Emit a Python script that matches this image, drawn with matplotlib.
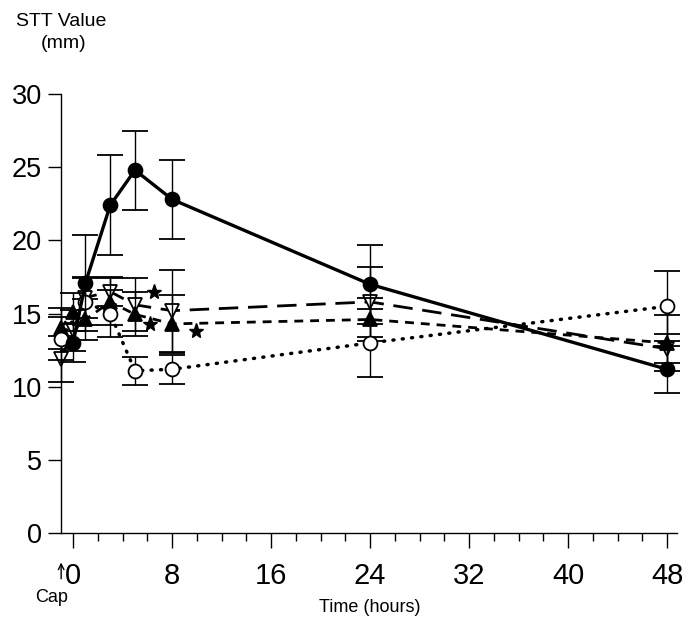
import matplotlib.pyplot as plt
import numpy as np

# time after capsaicin (hours) and STT values (mm)
t_filled = [0, 1, 3, 5, 8, 24, 48]
filled = [13.0, 17.1, 22.4, 24.8, 22.8, 17.0, 11.2]
filled_err = [1.3, 3.3, 3.4, 2.7, 2.7, 2.7, 1.6]

t_open = [-1, 1, 3, 5, 8, 24, 48]
open_ = [13.3, 15.8, 15.0, 11.1, 11.2, 13.0, 15.5]
open_err = [1.5, 1.6, 1.6, 0.95, 1.0, 2.3, 2.4]

t_tri = [-1, 0, 1, 3, 5, 8, 24, 48]
tri_up = [14.0, 15.1, 14.6, 15.8, 14.95, 14.3, 14.6, 13.0]
tri_up_err = [1.4, 1.3, 1.4, 1.6, 1.5, 2.0, 1.5, 1.9]
tri_down = [11.9, 13.85, 16.1, 16.5, 15.6, 15.2, 15.8, 12.6]
tri_down_err = [1.6, 1.4, 1.4, 1.0, 1.8, 2.8, 2.4, 1.0]

star_t = [6.5, 6.2, 9.9]
star_y = [16.5, 14.3, 13.8]

x_ticks = [0, 8, 16, 24, 32, 40, 48]
y_ticks = [0, 5, 10, 15, 20, 25, 30]

plt.rcParams['font.family'] = ['Liberation Sans', 'DejaVu Sans']

fig = plt.figure(figsize=(6.87, 6.24), dpi=100)
ax = fig.add_axes([0.0884, 0.1453, 0.897, 0.7042])

common = dict(ecolor='black', elinewidth=1.0, capsize=9.5, capthick=1.0,
              color='black', markeredgecolor='black', markersize=10,
              markeredgewidth=1.3, clip_on=False)

ax.errorbar(t_tri, tri_down, yerr=tri_down_err, marker='v', markerfacecolor='white',
            linestyle=(0, (7, 3.5)), linewidth=2.0, zorder=2, **common)
ax.errorbar(t_tri, tri_up, yerr=tri_up_err, marker='^', markerfacecolor='black',
            linestyle=(0, (3.2, 2.5)), linewidth=2.0, zorder=3, **common)
l = ax.errorbar(t_open, open_, yerr=open_err, marker='o', markerfacecolor='white',
                linestyle=(0, (0.3, 2.4)), linewidth=2.5, zorder=4, **common)
l[0].set_dash_capstyle('round')
ax.errorbar(t_filled, filled, yerr=filled_err, marker='o', markerfacecolor='black',
            linestyle='-', linewidth=2.4, zorder=5, **common)

ax.plot(star_t, star_y, linestyle='none', marker='*', markersize=11,
        color='black', zorder=6)

ax.set_xlim(-1, 48.8)
ax.set_ylim(0, 30)
for s in ['top', 'right']:
    ax.spines[s].set_visible(False)
ax.spines['left'].set_linewidth(1.0)
ax.spines['bottom'].set_linewidth(1.0)

ax.set_xticks(x_ticks)
ax.set_xticks(np.arange(0, 49, 2), minor=True)
ax.set_yticks(y_ticks)
ax.tick_params(axis='x', which='major', length=11, width=1.0, pad=10, labelsize=21)
ax.tick_params(axis='x', which='minor', length=6, width=1.0)
ax.tick_params(axis='y', which='major', length=9.6, width=1.0, pad=4, labelsize=19.5)

ax.text(0.089, 0.966, 'STT Value', transform=fig.transFigure, fontsize=14,
        ha='center', va='center')
ax.text(0.092, 0.931, '(mm)', transform=fig.transFigure, fontsize=14,
        ha='center', va='center')
ax.text(0.538, 0.026, 'Time (hours)', transform=fig.transFigure, fontsize=13,
        ha='center', va='center')
ax.text(0.075, 0.042, 'Cap', transform=fig.transFigure, fontsize=13,
        ha='center', va='center')
ax.annotate('', xy=(0.089, 0.103), xytext=(0.089, 0.068), xycoords='figure fraction',
            textcoords='figure fraction',
            arrowprops=dict(arrowstyle='->', lw=1.0, color='black'))

fig.savefig('out.png', dpi=100)
